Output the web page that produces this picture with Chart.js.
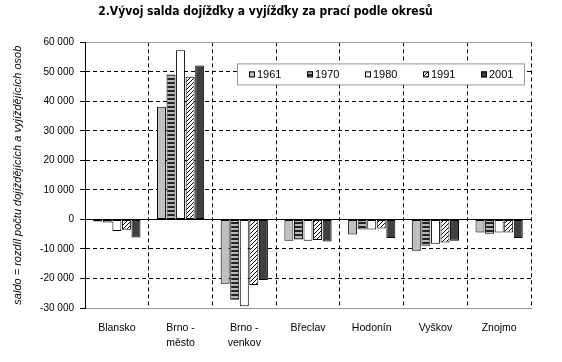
<!DOCTYPE html>
<html lang="cs">
<head>
  <meta charset="UTF-8">
  <title>Vývoj salda dojížďky a vyjížďky</title>
  <script src="https://cdn.jsdelivr.net/npm/chart.js"></script>
  <style>
    body {
      margin: 0;
      padding: 0;
      background: #fff;
    }
    #wrap {
      width: 562px;
      height: 362px;
    }
  </style>
</head>
<body>

<div id="wrap"><canvas id="saldoChart"></canvas></div>

<script>
  // okresy
  const districts = [
    'Blansko',
    ['Brno -', 'město'],
    ['Brno -', 'venkov'],
    'Břeclav',
    'Hodonín',
    'Vyškov',
    'Znojmo'
  ];

  const years = ['1961', '1970', '1980', '1991', '2001'];

  // saldo dojížďky
  const saldo1961 = [-700, 38200, -21800, -7200, -5100, -10600, -4400];
  const saldo1970 = [-1000, 49100, -27200, -6800, -3400, -8900, -4800];
  const saldo1980 = [-3900, 57300, -29400, -7200, -3400, -8200, -4400];
  const saldo1991 = [-3500, 48400, -22200, -7000, -3100, -7800, -4400];
  const saldo2001 = [-6100, 52200, -20500, -7500, -6300, -7200, -6300];

  const yTicks = [-30000, -20000, -10000, 0, 10000, 20000, 30000, 40000, 50000, 60000];

  const canvas = document.getElementById('saldoChart');
  const ctx = canvas.getContext('2d');

  // vzorky výplní jako v Excelu
  function stripePattern() {
    const p = document.createElement('canvas');
    p.width = 4; p.height = 4;
    const g = p.getContext('2d');
    g.fillStyle = '#b8b8b8';
    g.fillRect(0, 0, 4, 2);
    g.fillStyle = '#222';
    g.fillRect(0, 2, 4, 2);
    return ctx.createPattern(p, 'repeat');
  }

  function hatchPattern() {
    const p = document.createElement('canvas');
    p.width = 4; p.height = 4;
    const g = p.getContext('2d');
    g.fillStyle = '#fff';
    g.fillRect(0, 0, 4, 4);
    g.strokeStyle = '#000';
    g.lineWidth = 1;
    g.beginPath();
    g.moveTo(0, 4); g.lineTo(4, 0);
    g.moveTo(-1, 1); g.lineTo(1, -1);
    g.moveTo(3, 5); g.lineTo(5, 3);
    g.stroke();
    return ctx.createPattern(p, 'repeat');
  }

  const fills = ['#c0c0c0', stripePattern(), '#ffffff', hatchPattern(), '#404040'];
  const series = [saldo1961, saldo1970, saldo1980, saldo1991, saldo2001];

  const datasets = years.map((y, i) => ({
    label: y,
    data: series[i],
    backgroundColor: fills[i],
    borderColor: '#000',
    borderWidth: 1,
    borderSkipped: false,
    categoryPercentage: 0.75,
    barPercentage: 0.94
  }));

  const formatNum = v => {
    const s = Math.abs(v).toString().replace(/\B(?=(\d{3})+(?!\d))/g, ' ');
    return (v < 0 ? '-' : '') + s;
  };

  // legenda v rámečku uvnitř grafu
  const legendBox = {
    id: 'legendBox',
    afterDraw(chart) {
      const c = chart.ctx;
      const area = chart.chartArea;
      const left = area.left + 152;
      const top = area.top + 21;
      const w = 287, h = 21;
      c.save();
      c.fillStyle = '#fff';
      c.fillRect(left, top, w, h);
      c.strokeStyle = '#999';
      c.lineWidth = 1;
      c.strokeRect(left + 0.5, top + 0.5, w, h);
      c.font = '11px "Liberation Sans", Arial, sans-serif';
      c.textBaseline = 'middle';
      chart.data.datasets.forEach((ds, i) => {
        const x = left + 12 + i * 58;
        const y = top + 8;
        c.fillStyle = ds.backgroundColor;
        c.fillRect(x, y, 6, 6);
        c.strokeStyle = '#000';
        c.strokeRect(x + 0.5, y + 0.5, 5, 5);
        c.fillStyle = '#000';
        c.fillText(ds.label, x + 8, y + 3.5);
      });
      c.restore();
    }
  };

  new Chart(ctx, {
    type: 'bar',
    data: {
      labels: districts,
      datasets: datasets
    },
    options: {
      responsive: true,
      maintainAspectRatio: false,
      animation: false,
      layout: {
        padding: { left: 0, right: 31, top: 0, bottom: 0 }
      },
      plugins: {
        legend: { display: false },
        tooltip: { enabled: false },
        title: {
          display: true,
          text: '2.Vývoj salda dojížďky a vyjížďky za prací podle okresů',
          color: '#000',
          font: { family: '"Liberation Sans Narrow", "Arial Narrow", "DejaVu Sans Condensed", sans-serif', size: 12, weight: 'bold' },
          padding: { top: 5, bottom: 23 }
        }
      },
      scales: {
        x: {
          afterFit: scale => { scale.height = 54; },
          grid: {
            offset: true,
            drawTicks: false,
            color: c => c.index === districts.length ? '#999' : '#000'
          },
          border: {
            color: '#999',
            dash: c => c.index === districts.length ? [] : [4, 3]
          },
          ticks: {
            color: '#000',
            padding: 13,
            maxRotation: 0,
            autoSkip: false,
            font: { family: '"Liberation Sans", Arial, sans-serif', size: 10.5, lineHeight: 1.4 }
          }
        },
        y: {
          min: -30000,
          max: 60000,
          afterFit: scale => { scale.width = 85; },
          afterBuildTicks: scale => { scale.ticks = yTicks.map(v => ({ value: v })); },
          grid: {
            tickLength: 5,
            tickColor: '#000',
            color: c => (c.tick && (c.tick.value === 60000 || c.tick.value === -30000)) ? '#999' : '#000'
          },
          border: {
            color: '#000',
            dash: c => (c.tick && (c.tick.value === 0 || c.tick.value === 60000 || c.tick.value === -30000)) ? [] : [4, 3]
          },
          ticks: {
            color: '#000',
            padding: 6,
            font: { family: '"Liberation Sans", Arial, sans-serif', size: 10 },
            callback: v => formatNum(v)
          },
          title: {
            display: true,
            text: 'saldo = rozdíl počtu dojíždějících a vyjíždějících osob',
            color: '#000',
            padding: { top: 11, bottom: 0 },
            font: { family: '"Liberation Sans", Arial, sans-serif', size: 11, style: 'italic' }
          }
        }
      }
    },
    plugins: [legendBox]
  });
</script>

</body>
</html>
